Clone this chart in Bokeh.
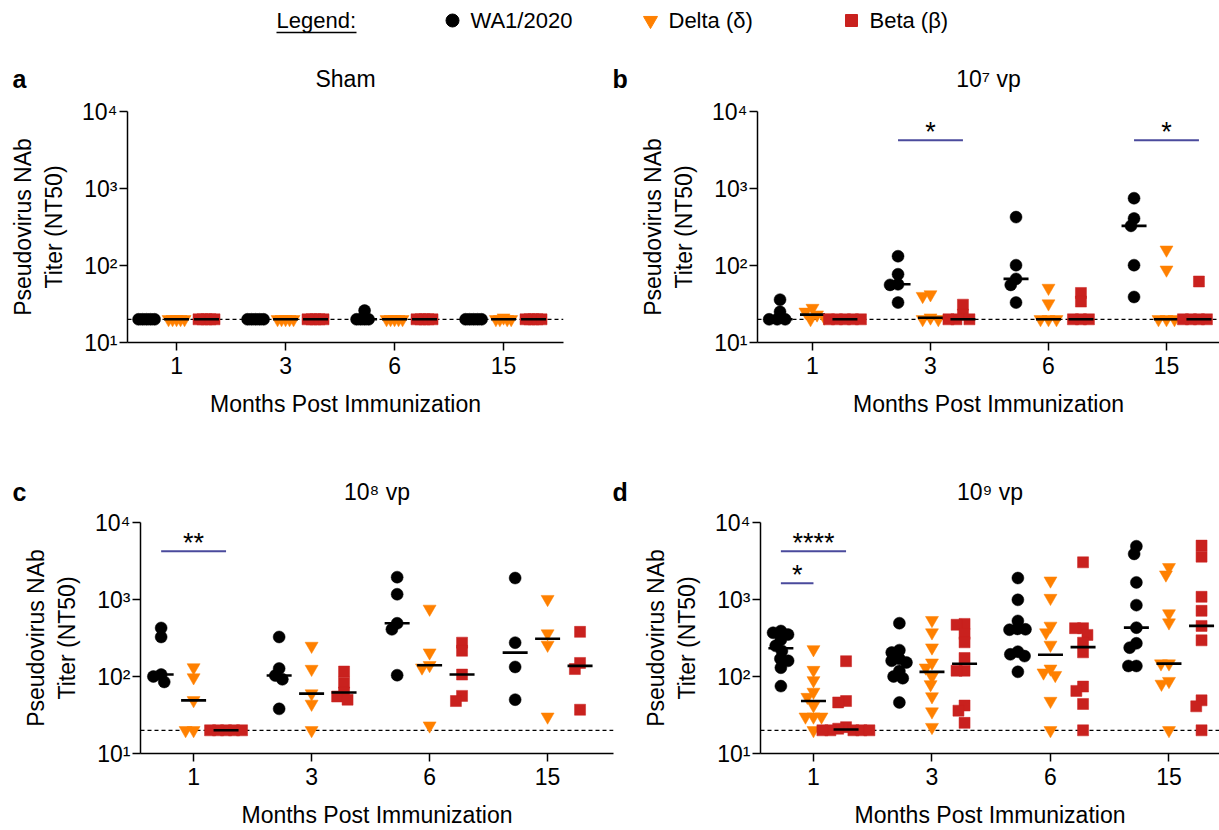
import math
import numpy as np
from bokeh.plotting import figure
from bokeh.layouts import column, row
from bokeh.models import Range1d, FixedTicker, Span, Label, ColumnDataSource
from bokeh.core.properties import value
from bokeh.embed import file_html
from bokeh.resources import INLINE

# ---------------- data ----------------
months = ["1", "3", "6", "15"]
strains = ["WA1/2020", "Delta (δ)", "Beta (β)"]
titles = ["Sham", "10⁷ vp", "10⁸ vp", "10⁹ vp"]
panel_letters = ["a", "b", "c", "d"]
y_ticks = [10, 100, 1000, 10000]
y_tick_labels = ["10¹", "10²", "10³", "10⁴"]
detection_limit = 20

# Sham
sham_wa1 = [[20, 20, 20, 20, 20], [20, 20, 20, 20, 20], [26, 20, 20, 20, 20], [20, 20, 20, 20, 20]]
sham_delta = [[20, 20, 20, 20, 20], [20, 20, 20, 20, 20], [20, 20, 20, 20, 20], [21, 20, 20, 20, 20]]
sham_beta = [[20, 20, 20, 20, 20], [20, 20, 20, 20, 20], [20, 20, 20, 20, 20], [20, 20, 20, 20, 20]]

# 10^7 vp
vp7_wa1 = [[36, 25, 20, 20, 20], [132, 77, 57, 56, 33], [425, 101, 67, 56, 33], [748, 408, 327, 101, 39]]
vp7_delta = [[28, 25, 23, 21, 20], [42, 40, 21, 20, 20], [51, 32, 20, 20, 20], [160, 88, 20, 20, 20]]
vp7_beta = [[20, 20, 20, 20, 20], [31, 23, 20, 20, 20], [44, 34, 20, 20, 20], [62, 20, 20, 20, 20]]

# 10^8 vp
vp8_wa1 = [[427, 326, 106, 100, 85], [326, 127, 103, 92, 38], [1950, 1170, 491, 410, 104], [1900, 275, 133, 50]]
vp8_delta = [[131, 97, 49, 20, 20], [249, 125, 60, 44, 20], [755, 204, 140, 130, 23], [1010, 361, 257, 30]]
vp8_beta = [[20, 20, 20, 20, 20], [116, 83, 62, 55, 50], [275, 216, 106, 56, 48], [380, 150, 125, 37]]

# 10^9 vp
vp9_wa1 = [[390, 370, 350, 300, 250, 215, 170, 160, 130, 75],
           [492, 220, 205, 170, 160, 152, 118, 100, 95, 46],
           [1900, 990, 527, 415, 410, 405, 210, 194, 184, 115],
           [4920, 3910, 1667, 845, 431, 270, 237, 137, 137]]
vp9_delta = [[225, 121, 89, 63, 54, 42, 30, 30, 30, 20],
             [538, 372, 237, 151, 130, 100, 79, 55, 35, 22],
             [1754, 1043, 454, 372, 257, 126, 112, 104, 48, 20],
             [2620, 2100, 657, 501, 147, 147, 87, 80, 20]]
vp9_beta = [[158, 48, 46, 22, 21, 20, 20, 20, 20, 20],
            [482, 470, 357, 278, 174, 119, 119, 42, 36, 25],
            [3040, 424, 424, 347, 275, 206, 74, 65, 44, 20],
            [5010, 3600, 1084, 713, 454, 295, 49, 41, 20]]

# significance brackets
sig_a_month, sig_a_from, sig_a_to, sig_a_label, sig_a_y = [], [], [], [], []
sig_b_month = ["3", "15"]
sig_b_from = ["WA1/2020", "WA1/2020"]
sig_b_to = ["Beta (β)", "Beta (β)"]
sig_b_label = ["*", "*"]
sig_b_y = [4220, 4220]
sig_c_month = ["1"]
sig_c_from = ["WA1/2020"]
sig_c_to = ["Beta (β)"]
sig_c_label = ["**"]
sig_c_y = [4230]
sig_d_month = ["1", "1"]
sig_d_from = ["WA1/2020", "WA1/2020"]
sig_d_to = ["Beta (β)", "Delta (δ)"]
sig_d_label = ["****", "*"]
sig_d_y = [4230, 1620]

# ---------------- style ----------------
FONT = "Liberation Sans"
COLORS = {"WA1/2020": "#000000", "Delta (δ)": "#FF8000", "Beta (β)": "#C9211E"}
MARKERS = {"WA1/2020": "circle", "Delta (δ)": "inverted_triangle", "Beta (β)": "square"}
SIZES = {"WA1/2020": 12, "Delta (δ)": 13, "Beta (β)": 11}
OFFSETS = {"WA1/2020": -0.275, "Delta (δ)": 0.0, "Beta (β)": 0.275}
SIG_COLOR = "#4a4a9c"
PX_PER_DECADE = 77.0
W = 1219


def swarm(vals, d):
    ys = [math.log10(v) * PX_PER_DECADE for v in vals]
    xs = [0.0] * len(vals)
    placed = []
    for i, y in enumerate(ys):
        cands = [0.0]
        intervals = []
        for (px, py) in placed:
            dy = abs(y - py)
            if dy < d:
                w = math.sqrt(d * d - dy * dy)
                intervals.append((px - w, px + w))
                cands += [px - w, px + w]
        cands.sort(key=lambda c: (round(abs(c), 6), c))
        for c in cands:
            if all(not (a + 1e-6 < c < b - 1e-6) for a, b in intervals):
                xs[i] = c
                break
        placed.append((xs[i], y))
    return xs


def make_panel(data, sig, width, height, bl, br, bt, bb, x0, unit, swarm_d):
    frame_w = width - bl - br
    x1 = x0 + frame_w / unit
    p = figure(width=width, height=height, x_range=Range1d(x0, x1), y_range=Range1d(10, 10000),
               y_axis_type="log", output_backend="svg", toolbar_location=None, title=None,
               min_border_left=bl, min_border_right=br, min_border_top=bt, min_border_bottom=bb)
    p.outline_line_color = None
    p.grid.visible = False
    p.background_fill_color = "white"
    p.border_fill_color = "white"

    for ax in (p.xaxis[0], p.yaxis[0]):
        ax.axis_line_width = 1.5
        ax.axis_line_color = "black"
        ax.major_tick_line_width = 1.5
        ax.major_tick_line_color = "black"
        ax.major_tick_out = 8
        ax.major_tick_in = 0
        ax.minor_tick_out = 0
        ax.minor_tick_in = 0
        ax.major_label_text_font = FONT
        ax.major_label_text_font_size = "23px"
        ax.major_label_text_color = "black"
        ax.axis_label_text_font = FONT
        ax.axis_label_text_font_size = "23px"
        ax.axis_label_text_font_style = "normal"
        ax.axis_label_text_color = "black"

    p.yaxis.ticker = FixedTicker(ticks=y_ticks, minor_ticks=[])
    p.yaxis.major_label_overrides = {t: l for t, l in zip(y_ticks, y_tick_labels)}
    p.yaxis.axis_label = "Pseudovirus NAb\nTiter (NT50)"
    p.yaxis.major_label_standoff = 2
    p.yaxis.axis_label_standoff = 12

    p.xaxis.ticker = FixedTicker(ticks=list(range(len(months))), minor_ticks=[])
    p.xaxis.major_label_overrides = {i: m for i, m in enumerate(months)}
    p.xaxis.axis_label = "Months Post Immunization"
    p.xaxis.major_label_standoff = 6
    p.xaxis.axis_label_standoff = 14

    span = Span(location=detection_limit, dimension="width", line_color="black",
                line_dash="4 3", line_width=1.3, level="underlay")
    p.add_layout(span)

    for s, groups in zip(strains, data):
        xs, ys, mx, my = [], [], [], []
        for gi, vals in enumerate(groups):
            center = gi + OFFSETS[s]
            offs = swarm(vals, swarm_d)
            xs += [center + o / unit for o in offs]
            ys += list(vals)
            mx.append(center)
            my.append(float(np.median(vals)))
        p.scatter(x=xs, y=ys, marker=MARKERS[s], size=SIZES[s],
                  fill_color=COLORS[s], line_color=COLORS[s], line_width=0.5)
        p.scatter(x=mx, y=my, marker="dash", size=25, line_color="black", line_width=2.6)

    sm, sf, st, sl, sy = sig
    if sm:
        gi = [months.index(m) for m in sm]
        bx0 = [g + OFFSETS[f] for g, f in zip(gi, sf)]
        bx1 = [g + OFFSETS[t] for g, t in zip(gi, st)]
        src = ColumnDataSource(dict(x0=bx0, x1=bx1, y=sy, xm=[(a + b) / 2 for a, b in zip(bx0, bx1)], lab=sl))
        p.segment(x0="x0", y0="y", x1="x1", y1="y", source=src, line_color=SIG_COLOR, line_width=2)
        p.text(x="xm", y="y", text="lab", source=src, text_align="center", text_baseline="middle",
               y_offset=-8, text_font=value(FONT), text_font_size="27px", text_color="black")
    return p


# panel geometry: (width, height, border left, border right, border top, border bottom, x start, px per month, swarm spacing)
GEOM = [
    (600, 375, 127, 37, 16, 128, -0.45, 109.0, 4),
    (619, 375, 157, 0, 16, 128, -0.466, 118.0, 8),
    (620, 325, 140, 7, 17, 77, -0.45, 118.0, 8),
    (599, 325, 140, 0, 17, 77, -0.447, 118.5, 8),
]
DATA = [(sham_wa1, sham_delta, sham_beta), (vp7_wa1, vp7_delta, vp7_beta),
        (vp8_wa1, vp8_delta, vp8_beta), (vp9_wa1, vp9_delta, vp9_beta)]
SIGS = [(sig_a_month, sig_a_from, sig_a_to, sig_a_label, sig_a_y),
        (sig_b_month, sig_b_from, sig_b_to, sig_b_label, sig_b_y),
        (sig_c_month, sig_c_from, sig_c_to, sig_c_label, sig_c_y),
        (sig_d_month, sig_d_from, sig_d_to, sig_d_label, sig_d_y)]

panels = [make_panel(d, s, *g) for d, s, g in zip(DATA, SIGS, GEOM)]

# frame centres and left x of each panel on the page (for titles)
page_left = [0, GEOM[0][0], 0, GEOM[2][0]]
frame_center = [page_left[i] + GEOM[i][2] + (GEOM[i][0] - GEOM[i][2] - GEOM[i][3]) / 2 for i in range(4)]
letter_x = [12, 612, 12, 612]


def strip(height):
    f = figure(width=W, height=height, x_range=Range1d(0, W), y_range=Range1d(height, 0),
               x_axis_location=None, y_axis_location=None, toolbar_location=None, title=None,
               output_backend="svg", min_border=0)
    f.outline_line_color = None
    f.grid.visible = False
    return f


def add_heads(f, idxs, mid):
    for i in idxs:
        f.add_layout(Label(x=letter_x[i], y=mid, text=panel_letters[i], text_font=FONT,
                           text_font_size="25px", text_font_style="bold", text_color="black",
                           text_baseline="middle"))
        f.add_layout(Label(x=frame_center[i], y=mid, text=titles[i], text_font=FONT,
                           text_font_size="23px", text_color="black", text_align="center",
                           text_baseline="middle"))


# ---------------- top strip: legend + headings of a, b ----------------
s1 = strip(95)
legend_sw_x = [452, 650, 851]
legend_tx_x = [470, 668, 869]
s1.scatter(x=legend_sw_x, y=[20, 20, 20], marker=[MARKERS[s] for s in strains],
           size=[SIZES[s] + 1 for s in strains], fill_color=[COLORS[s] for s in strains],
           line_color=[COLORS[s] for s in strains])
for tx, s in zip(legend_tx_x, strains):
    s1.add_layout(Label(x=tx, y=20, text=s, text_font=FONT, text_font_size="22px",
                        text_color="black", text_baseline="middle"))
s1.add_layout(Label(x=276, y=20, text="Legend:", text_baseline="middle", text_font=FONT,
                    text_font_size="22px", text_color="black"))
s1.segment(x0=[276], y0=[32], x1=[356], y1=[32], line_color="black", line_width=1.5)
add_heads(s1, [0, 1], 78)

# ---------------- middle strip: headings of c, d ----------------
s2 = strip(35)
add_heads(s2, [2, 3], 21)

layout = column(s1, row(panels[0], panels[1]), s2, row(panels[2], panels[3]))
open("out.html", "w").write(file_html(layout, INLINE))
